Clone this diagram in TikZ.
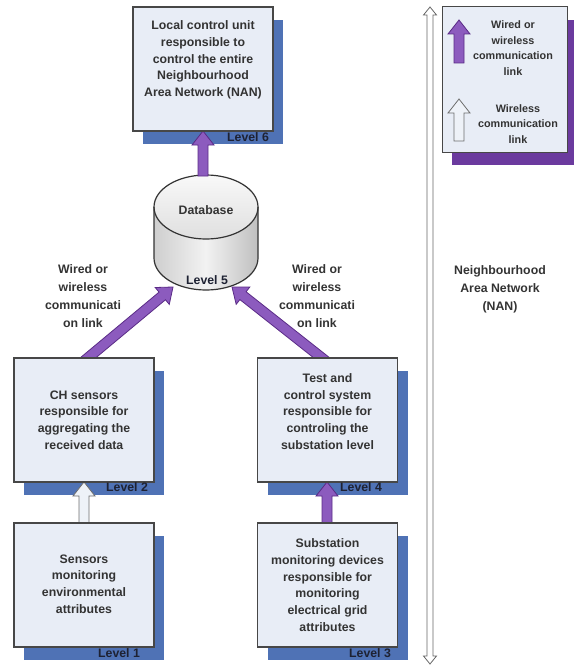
\documentclass[tikz,border=0pt]{standalone}
\usepackage{fontspec}
\setmainfont{Liberation Sans}
\usetikzlibrary{calc}
\definecolor{shadowblue}{HTML}{4F72B5}
\definecolor{boxfill}{HTML}{E8EDF6}
\definecolor{boxline}{HTML}{474747}
\definecolor{legpurple}{HTML}{6B3A9E}
\definecolor{arrfill}{HTML}{8C5BBE}
\definecolor{arrline}{HTML}{5A2B86}
\definecolor{wfill}{HTML}{EEF2F8}
\definecolor{wline}{HTML}{6E6E6E}
\definecolor{txtc}{HTML}{333333}
\definecolor{lvlc}{HTML}{1E2233}
\newcommand{\blockarrow}[3][]{%
 \draw[#1] ($(#2)!5pt!90:(#3)$) -- ($($(#3)!14pt!(#2)$)!5pt!90:(#3)$) -- ($($(#3)!14pt!(#2)$)!11pt!90:(#3)$) -- (#3) -- ($($(#3)!14pt!(#2)$)!11pt!-90:(#3)$) -- ($($(#3)!14pt!(#2)$)!5pt!-90:(#3)$) -- ($(#2)!5pt!-90:(#3)$) -- cycle;}
\tikzset{
 boxfront/.style={draw=boxline, line width=1.1pt, fill=boxfill, minimum width=140pt, minimum height=124pt, inner sep=0pt},
 boxshadow/.style={fill=shadowblue, minimum width=140pt, minimum height=124pt, inner sep=0pt},
 bodytext/.style={align=center, text=txtc, inner sep=0pt, font=\bfseries\fontsize{12.3}{16.8}\selectfont},
 labeltext/.style={align=center, text=txtc, inner sep=0pt, font=\bfseries\fontsize{12.3}{18}\selectfont},
 legtext/.style={align=center, text=txtc, inner sep=0pt, font=\bfseries\fontsize{10.8}{15.5}\selectfont},
 lvltext/.style={text=lvlc, inner sep=0pt, font=\bfseries\fontsize{12.3}{14}\selectfont},
 purplearrow/.style={fill=arrfill, draw=arrline, line width=0.8pt, line join=miter},
 whitearrow/.style={fill=wfill, draw=wline, line width=0.8pt, line join=miter},
 dbline/.style={draw=black!80, line width=1.2pt},
}
\begin{document}
\begin{tikzpicture}[x=1pt,y=-1pt]
\useasboundingbox (0,0) rectangle (573,666);
% shadows
\node[boxshadow] (s6) at (213,82) {};
\node[boxshadow] (s2) at (94,433) {};
\node[boxshadow] (s1) at (94,598) {};
\node[boxshadow] (s4) at (337.5,433) {};
\node[boxshadow] (s3) at (337.5,598) {};
\node[fill=legpurple, minimum width=125pt, minimum height=145pt, inner sep=0pt] (slg) at (514.5,92.5) {};
% database
\node[inner sep=0pt, minimum width=104pt, minimum height=115pt] (db) at (206,232.5) {};
\shade[left color=gray!38, right color=gray!50, middle color=gray!10] (154,207) -- (154,258) arc[start angle=180, end angle=0, x radius=52, y radius=32] -- (258,207) -- cycle;
\shade[top color=gray!5, bottom color=gray!25] (206,207) ellipse[x radius=52, y radius=32];
\draw[dbline] (154,207) -- (154,258) arc[start angle=180, end angle=0, x radius=52, y radius=32] -- (258,207);
\draw[dbline] (206,207) ellipse[x radius=52, y radius=32];
\node[bodytext] (dbt) at (206,210) {Database};
\node[lvltext] (l5) at (207,280) {Level 5};
\coordinate (dbtop) at (203,176);
\coordinate (dbl) at (173,287);
\coordinate (dbr) at (232,287);
% arrow end points on the boxes
\coordinate (b6s) at (203,131);
\coordinate (b2n) at (83,362);
\coordinate (b4n) at (327,362);
\coordinate (b2s) at (84,482);
\coordinate (b1n) at (84,526);
\coordinate (b4s) at (327,482);
\coordinate (b3n) at (327,526);
% arrows
\blockarrow[purplearrow]{dbtop}{b6s}
\blockarrow[purplearrow]{b2n}{dbl}
\blockarrow[purplearrow]{b4n}{dbr}
\blockarrow[whitearrow]{b1n}{b2s}
\blockarrow[purplearrow]{b3n}{b4s}
% front boxes
\node[boxfront] (b6) at (203,69) {};
\node[boxfront] (b2) at (84,420) {};
\node[boxfront] (b1) at (84,585) {};
\node[boxfront] (b4) at (327.5,420) {};
\node[boxfront] (b3) at (327.5,585) {};
\node[draw=boxline, line width=1pt, fill=boxfill, minimum width=125pt, minimum height=145pt, inner sep=0pt] (lg) at (504.5,79.5) {};
% box texts
\node[bodytext] (t6) at (203,60) {Local control unit\\responsible to\\control the entire\\Neighbourhood\\Area Network (NAN)};
\node[bodytext] (t2) at (84,420) {CH sensors\\responsible for\\aggregating the\\received data};
\node[bodytext] (t1) at (84,584) {Sensors\\monitoring\\environmental\\attributes};
\node[bodytext] (t4) at (327.5,411.5) {Test and\\control system\\responsible for\\controling the\\substation level};
\node[bodytext] (t3) at (327.5,585) {Substation\\monitoring devices\\responsible for\\monitoring\\electrical grid\\attributes};
% level labels
\node[lvltext] (l6) at (248,137) {Level 6};
\node[lvltext] (l2) at (127,487) {Level 2};
\node[lvltext] (l1) at (119,653) {Level 1};
\node[lvltext] (l4) at (361,487) {Level 4};
\node[lvltext] (l3) at (370,653) {Level 3};
% link labels
\node[labeltext] (ll) at (83,296) {Wired or\\wireless\\communicati\\on link};
\node[labeltext] (lr) at (317,296) {Wired or\\wireless\\communicati\\on link};
\node[labeltext] (nan) at (500,289) {Neighbourhood\\Area Network\\(NAN)};
% NAN extent arrow
\draw[fill=white, draw=gray!80!black, line width=0.8pt, line join=miter]
 (427,15) -- (423.5,15) -- (430,7) -- (436.5,15) -- (433,15) -- (433,656) -- (436.5,656) -- (430,664) -- (423.5,656) -- (427,656) -- cycle;
% legend
\coordinate (lpa) at (459,63);
\coordinate (lpb) at (459,20);
\coordinate (lwa) at (459,141);
\coordinate (lwb) at (459,99);
\blockarrow[purplearrow]{lpa}{lpb}
\blockarrow[whitearrow]{lwa}{lwb}
\node[legtext] (lt1) at (513,48) {Wired or\\wireless\\communication\\link};
\node[legtext] (lt2) at (518,124) {Wireless\\communication\\link};
\end{tikzpicture}
\end{document}
